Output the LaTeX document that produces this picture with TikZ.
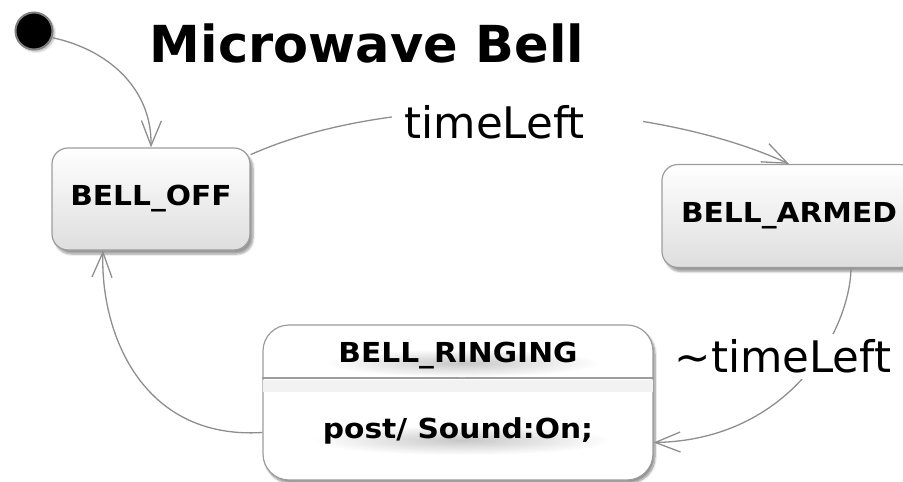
\documentclass[tikz,border=0pt]{standalone}
\usepackage{fontspec}
\setmainfont{DejaVu Sans}
\newfontfamily\statefont[FakeStretch=1.08]{DejaVu Sans Bold}
\usetikzlibrary{arrows.meta,shadows.blur,calc}

\definecolor{edgegray}{HTML}{8E8E8E}
\definecolor{boxline}{HTML}{9C9C9C}

\begin{document}
\begin{tikzpicture}[x=1pt,y=-1pt,
  state/.style={draw=boxline, line width=1.2pt, rounded corners=16pt,
    top color=white, bottom color=black!13, inner sep=0pt,
    blur shadow={shadow xshift=3pt, shadow yshift=-4pt,
      shadow blur steps=6, shadow opacity=40}},
  statelabel/.style={font=\statefont\fontsize{27.5}{32}\selectfont, inner sep=0pt},
  haze/.style={inner color=black!22, outer color=white},
  trans/.style={draw=edgegray, line width=1.3pt,
    -{Straight Barb[length=25pt,width=20pt,line width=1.3pt]}},
  lbl/.style={fill=white, inner sep=0pt, font=\fontsize{43.5}{48}\selectfont}
]
\useasboundingbox (0,0) rectangle (903,482);

% title
\node[font=\bfseries\fontsize{51}{58}\selectfont, inner sep=0pt] (title) at (367,43) {Microwave Bell};

% initial pseudo-state
\node[circle, fill=black, draw=gray, line width=2pt, minimum size=37pt, inner sep=0pt,
  blur shadow={shadow xshift=2pt, shadow yshift=-2pt, shadow opacity=30}] (init) at (34,31) {};

% simple states
\node[state, minimum width=198pt, minimum height=102pt] (off) at (151,199) {};
\node[statelabel] (offtext) at (off) {BELL\_OFF};

\node[state, minimum width=254pt, minimum height=103pt] (armed) at (789,216) {};
\node[statelabel] (armedtext) at (armed) {BELL\_ARMED};

% composite state with an entry compartment
\node[state, top color=white, bottom color=white, rounded corners=26pt,
  minimum width=390pt, minimum height=155pt,
  blur shadow={shadow xshift=2pt, shadow yshift=-3pt, shadow opacity=25}] (ringing) at (458,402.5) {};
\draw[boxline, line width=1.2pt] (ringing.west |- 0,378) coordinate (divl) -- (ringing.east |- 0,378) coordinate (divr);
\fill[black!5] ($(divl)+(1,1.5)$) rectangle ($(divr)+(-1,14)$);

% soft haze under the compartment texts
\shade[haze] (462,363) ellipse [x radius=138pt, y radius=14pt];
\shade[haze] (462,440) ellipse [x radius=150pt, y radius=15pt];
\node[statelabel] (ringtitle) at (458,356) {BELL\_RINGING};
\node[statelabel] (ringbody) at (458,431) {post/ Sound:On;};

% transitions
\draw[trans] (init.-20) .. controls (110,50) and (152,90) .. (off.north);

\draw[trans] (off.24) .. controls (400,88) and (650,100) .. (armed.north);
\node[lbl, minimum height=50pt, text width=225pt, inner xsep=13pt, align=left] (tl) at (517,122) {timeLeft};

\draw[trans] ([xshift=62pt]armed.south) .. controls (850,330) and (790,440) .. ([yshift=-40pt]ringing.east);
\node[lbl, minimum height=45pt, minimum width=222pt] (ntl) at (783,356) {\textasciitilde timeLeft};

\draw[trans] ([yshift=-30pt]ringing.west) .. controls (140,440) and (100,330) .. ([xshift=-48pt]off.south);
\end{tikzpicture}
\end{document}
